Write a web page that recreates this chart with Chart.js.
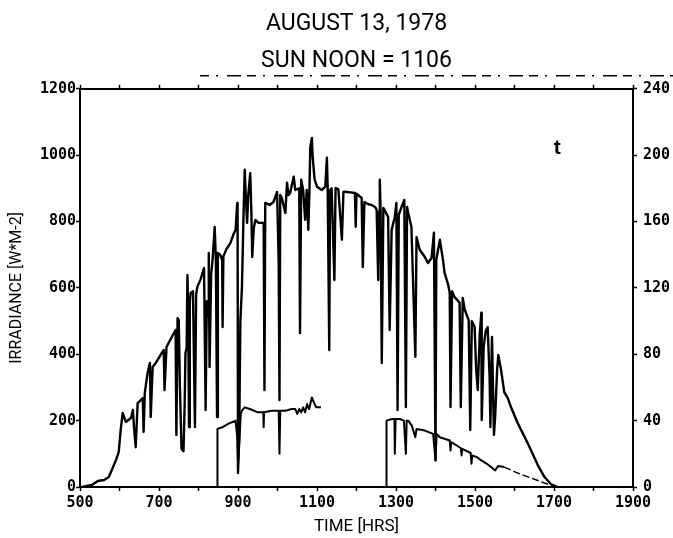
<!DOCTYPE html>
<html lang="en">
<head>
<meta charset="UTF-8">
<title>Irradiance - August 13, 1978</title>
<script src="https://cdn.jsdelivr.net/npm/chart.js"></script>
<style>
  body { margin: 0; background: #fff; }
  #wrap { width: 673px; height: 538px; }
</style>
</head>
<body>
<div id="wrap"><canvas id="irradianceChart" width="673" height="538"></canvas></div>
<script>
// global irradiance trace (left axis, W*M-2), time in HHMM
const timeHrs = [
  505, 530, 545, 561, 573, 591, 598, 603, 608, 616, 629, 634, 637, 641, 646, 659, 661, 664, 671, 677,
  679, 684, 692, 705, 712, 714, 719, 735, 742, 744, 747, 750, 753, 757, 762, 765, 767, 770, 772, 774,
  776, 778, 780, 786, 791, 794, 797, 805, 814, 818, 821, 825, 826, 828, 832, 836, 841, 844, 847, 849,
  855, 860, 861, 863, 870, 881, 888, 894, 898, 899, 900, 903, 906, 910, 914, 917, 920, 923, 926, 931,
  934, 936, 940, 944, 952, 965, 967, 969, 980, 990, 999, 1003, 1005, 1007, 1011, 1020, 1024, 1028, 1032, 1041,
  1045, 1055, 1057, 1060, 1065, 1070, 1074, 1078, 1081, 1083, 1087, 1089, 1094, 1100, 1112, 1121, 1125, 1127, 1131, 1133,
  1137, 1144, 1147, 1154, 1163, 1167, 1175, 1185, 1196, 1198, 1200, 1213, 1216, 1220, 1230, 1238, 1247, 1251, 1255, 1257,
  1259, 1261, 1264, 1268, 1280, 1284, 1289, 1297, 1301, 1304, 1307, 1314, 1321, 1325, 1328, 1331, 1339, 1349, 1352, 1360,
  1373, 1381, 1390, 1396, 1400, 1402, 1411, 1419, 1423, 1432, 1436, 1438, 1442, 1448, 1461, 1464, 1469, 1474, 1484, 1488,
  1492, 1499, 1503, 1507, 1512, 1516, 1517, 1522, 1527, 1532, 1537, 1539, 1543, 1548, 1551, 1556, 1559, 1566, 1574, 1583,
  1591, 1608, 1633, 1659, 1676, 1692, 1709
];
const irradiance = [
  0, 6, 18, 21, 30, 81, 105, 172, 223, 196, 208, 232, 175, 120, 253, 268, 166, 283, 343, 374,
  211, 362, 374, 400, 413, 292, 422, 458, 473, 157, 509, 503, 300, 115, 108, 250, 404, 420, 639, 520,
  181, 560, 585, 590, 181, 580, 603, 625, 660, 232, 560, 513, 705, 362, 640, 690, 784, 684, 211, 705,
  700, 684, 482, 695, 715, 736, 760, 775, 856, 790, 42, 150, 500, 603, 820, 956, 870, 796, 880, 946,
  820, 693, 780, 805, 796, 796, 292, 856, 850, 859, 889, 675, 262, 880, 871, 826, 917, 880, 886, 935,
  895, 900, 464, 926, 895, 805, 895, 775, 900, 1025, 1052, 995, 926, 905, 895, 905, 992, 905, 413, 895,
  900, 624, 901, 898, 745, 890, 889, 888, 886, 784, 884, 871, 663, 859, 852, 850, 844, 835, 624, 830,
  926, 830, 374, 841, 814, 473, 775, 814, 856, 232, 820, 844, 865, 241, 844, 826, 784, 392, 753, 715,
  693, 675, 690, 766, 81, 684, 745, 684, 645, 610, 585, 241, 590, 573, 555, 241, 570, 534, 503, 172,
  500, 482, 353, 292, 460, 525, 202, 422, 470, 482, 332, 181, 452, 157, 211, 353, 398, 353, 286, 268,
  241, 193, 133, 66, 30, 9, 0
];

// second trace (right axis), logged in two runs
const sensorTime = [
  848, 848, 860, 875, 894, 898, 900, 903, 907, 910, 917, 930, 950, 964, 965, 966, 985, 1003, 1005, 1007,
  1020, 1036, 1045, 1050, 1055, 1060, 1065, 1070, 1075, 1080, 1087, 1092, 1098, 1110,
  1111,
  1276, 1276, 1290, 1296, 1297, 1299, 1310, 1320, 1325, 1327, 1331, 1340, 1349, 1352, 1373, 1394, 1400, 1403,
  1411, 1436, 1438, 1440, 1464, 1466, 1468, 1489, 1491, 1493, 1505, 1516, 1530, 1541, 1551, 1559, 1574, 1608,
  1642, 1676, 1700
];
const sensorValue = [
  0, 35, 36, 38, 40, 30, 13, 25, 44, 46, 48, 47, 45, 45, 36, 45, 46, 46, 20, 46,
  46, 47, 47, 44, 47, 45, 48, 45, 50, 47, 54, 51, 48, 48,
  null,
  0, 40, 41, 41, 20, 41, 41, 40, 20, 40, 40, 37, 30, 35, 34, 32, 16, 32,
  30, 28, 22, 27, 23.5, 19, 23, 20.5, 14, 19, 18, 16, 14, 12, 10, 12.7, 12, 8.4,
  5.4, 2.4, 0.5
];

const labelledHours = [500, 700, 900, 1100, 1300, 1500, 1700, 1900];

const TICK_FONT = { family: "'DejaVu Sans Mono', monospace", size: 15, weight: 'bold' };
const TEXT_FAMILY = "Roboto, 'DejaVu Sans', sans-serif";

Chart.defaults.color = '#000';

const toPoints = (xs, ys) => xs.map((x, i) => ({ x: x, y: ys[i] }));

// the broken rule above the frame and the lone "t" mark inside the plot
const extraMarks = {
  id: 'extraMarks',
  afterDraw(chart) {
    const { ctx, chartArea } = chart;
    ctx.save();
    ctx.strokeStyle = '#000';
    ctx.lineWidth = 1.5;
    ctx.setLineDash([9, 7, 2, 9, 14, 6]);
    ctx.beginPath();
    ctx.moveTo(chartArea.left + 120, chartArea.top - 13);
    ctx.lineTo(chart.width, chartArea.top - 13);
    ctx.stroke();
    ctx.setLineDash([]);
    ctx.fillStyle = '#000';
    ctx.font = "bold 21px 'Liberation Sans', sans-serif";
    ctx.textAlign = 'center';
    ctx.textBaseline = 'middle';
    ctx.fillText('t', chart.scales.x.getPixelForValue(1708), chart.scales.y.getPixelForValue(1022));
    ctx.restore();
  }
};

new Chart(document.getElementById('irradianceChart'), {
  type: 'line',
  data: {
    datasets: [{
      label: 'Irradiance',
      data: toPoints(timeHrs, irradiance),
      borderColor: '#000',
      borderWidth: 2.4,
      borderJoinStyle: 'round',
      pointRadius: 0,
      yAxisID: 'y'
    }, {
      label: 'Sensor',
      data: toPoints(sensorTime, sensorValue),
      borderColor: '#000',
      borderWidth: 2,
      borderJoinStyle: 'round',
      pointRadius: 0,
      spanGaps: false,
      yAxisID: 'y2',
      segment: {
        borderDash: ctx => ctx.p0.parsed.x > 1570 ? [7, 3] : undefined,
        borderWidth: ctx => ctx.p0.parsed.x > 1570 ? 1.5 : 2
      }
    }]
  },
  options: {
    responsive: false,
    animation: false,
    devicePixelRatio: 1,
    layout: { padding: 0 },
    plugins: {
      legend: { display: false },
      tooltip: { enabled: false },
      title: {
        display: true,
        text: 'AUGUST 13, 1978',
        fullSize: false,
        font: { family: TEXT_FAMILY, size: 23, weight: 'normal' },
        color: '#000',
        padding: { top: 10.2, bottom: 9.2 }
      },
      subtitle: {
        display: true,
        text: 'SUN NOON = 1106',
        fullSize: false,
        font: { family: TEXT_FAMILY, size: 23, weight: 'normal' },
        color: '#000',
        padding: { top: 0, bottom: 14.2 }
      }
    },
    scales: {
      x: {
        type: 'linear',
        position: 'bottom',
        min: 500,
        max: 1900,
        afterFit: s => { s.height = 51; },
        ticks: {
          stepSize: 100,
          autoSkip: false,
          maxRotation: 0,
          padding: 3,
          font: TICK_FONT,
          callback: v => labelledHours.includes(v) ? String(v) : ''
        },
        grid: { drawOnChartArea: false, tickLength: 4, tickColor: '#000', tickWidth: 1.5 },
        border: { color: '#000', width: 2 },
        title: { display: true, text: 'TIME [HRS]', font: { family: TEXT_FAMILY, size: 17 }, padding: { top: 0, bottom: 1 } }
      },
      x2: {
        type: 'linear',
        position: 'top',
        min: 500,
        max: 1900,
        afterFit: s => { s.height = 0; },
        ticks: { display: false, stepSize: 100 },
        grid: { drawOnChartArea: false, tickLength: 4, tickColor: '#000', tickWidth: 1.5 },
        border: { color: '#000', width: 2 }
      },
      y: {
        position: 'left',
        min: 0,
        max: 1200,
        afterFit: s => { s.width = 80; },
        ticks: { stepSize: 200, padding: 0, font: TICK_FONT, callback: v => String(v) },
        grid: { drawOnChartArea: false, tickLength: 4, tickColor: '#000', tickWidth: 1.5 },
        border: { color: '#000', width: 2 },
        title: { display: true, text: 'IRRADIANCE [W*M-2]', font: { family: TEXT_FAMILY, size: 16 }, padding: { top: 7, bottom: 0 } }
      },
      y2: {
        position: 'right',
        min: 0,
        max: 240,
        afterFit: s => { s.width = 40; },
        ticks: { stepSize: 40, padding: 6, font: TICK_FONT, callback: v => String(v) },
        grid: { drawOnChartArea: false, tickLength: 4, tickColor: '#000', tickWidth: 1.5 },
        border: { color: '#000', width: 2 }
      }
    }
  },
  plugins: [extraMarks]
});
</script>
</body>
</html>
